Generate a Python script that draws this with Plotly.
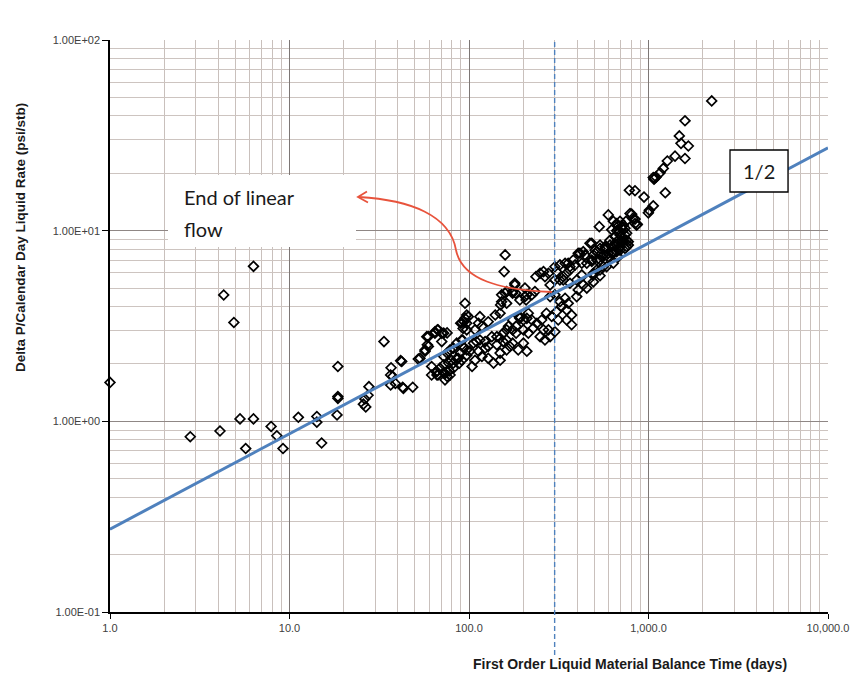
import math
import plotly.graph_objects as go

# ---------------- data ----------------
points = [
    (1.0, 1.6), (2.8, 0.83), (4.1, 0.89), (4.3, 4.6), (4.9, 3.3), (5.3, 1.03), (5.7, 0.72),
    (6.3, 1.03), (6.3, 6.5), (7.9, 0.94), (8.5, 0.84), (9.2, 0.72), (11.2, 1.05), (14.2, 1.06),
    (14.2, 0.99), (15.1, 0.77), (18.6, 1.94), (18.6, 1.35), (18.6, 1.32), (18.4, 1.08),
    (25.8, 1.23), (26.3, 1.31), (26.6, 1.19), (27.4, 1.37), (27.7, 1.52), (33.6, 2.62),
    (36.6, 1.75), (36.6, 1.55), (36.8, 1.91), (37.6, 1.72), (38.9, 1.58), (41.6, 2.08),
    (42.2, 2.06), (43.1, 1.49), (42.7, 1.51), (48.6, 1.51), (52.2, 2.12), (53.3, 2.14),
    (56.9, 2.37), (56.9, 2.33), (58.2, 2.78), (58.6, 2.52), (59.4, 2.47), (59.3, 2.78),
    (61.9, 1.94), (61.9, 1.75), (64.6, 2.95), (64.6, 2.90), (65.5, 1.82), (66.3, 1.75),
    (66.3, 1.82), (66.7, 3.02), (67.2, 3.02), (67.2, 1.75), (68.9, 1.90), (70.5, 2.90),
    (70.5, 2.62), (72.3, 2.90), (72.3, 2.19), (72.3, 1.98), (72.3, 1.80), (73.5, 1.78),
    (73.5, 1.65), (75.5, 2.91), (75.5, 2.28), (75.5, 1.82), (75.5, 1.72), (77.0, 2.02),
    (77.7, 1.84), (78.5, 2.37), (78.5, 1.75), (80.0, 2.09), (81.8, 2.42), (81.8, 2.02),
    (81.8, 1.90), (85.4, 2.57), (85.4, 2.14), (87.1, 2.14), (88.3, 2.02), (89.5, 2.28),
    (89.9, 3.27), (91.1, 2.67), (91.1, 2.09), (91.1, 3.29), (92.1, 2.67), (92.7, 2.47),
    (92.7, 3.07), (93.8, 2.42), (93.8, 3.33), (95, 3.47), (95, 4.16), (97.1, 3.61),
    (97.1, 3.02), (97.1, 3.27), (97.1, 2.37), (97.1, 2.22), (99.1, 3.54), (101, 2.33),
    (104, 1.94), (106, 2.57), (108, 3.02), (108, 2.09), (110, 2.62), (113, 3.27), (113, 2.33),
    (115, 3.54), (115, 2.67), (118, 3.15), (118, 2.19), (123, 2.42), (123, 2.62), (128, 3.33),
    (128, 2.47), (128, 2.14), (134, 2.78), (137, 2.02), (140, 3.61), (143, 2.78), (143, 2.52),
    (149, 3.69), (149, 2.73), (149, 2.28), (149, 2.09), (150, 4.08), (152, 4.24), (152, 4.61),
    (155, 2.62), (155, 2.90), (157, 6.10), (159, 7.46), (159, 4.70), (162, 4.16), (162, 4.79),
    (162, 3.02), (162, 2.37), (162, 2.67), (166, 3.15), (169, 2.47), (175, 4.70), (175, 4.79),
    (175, 3.40), (175, 3.02), (175, 2.57), (180, 5.19), (180, 5.30), (182, 4.70), (183, 3.15),
    (183, 2.90), (188, 2.37), (192, 4.33), (192, 3.47), (192, 3.54), (201, 3.40), (201, 3.02),
    (201, 2.57), (205, 5.0), (205, 4.51), (208, 4.33), (210, 4.61), (210, 3.47), (210, 2.33),
    (214, 3.69), (214, 2.90), (224, 4.61), (224, 3.40), (228, 3.08), (233, 4.79), (236, 5.74),
    (239, 3.27), (249, 5.98), (249, 2.78), (254, 3.40), (260, 6.10), (260, 3.02), (265, 5.74),
    (265, 2.67), (270, 3.69), (277, 5.98), (277, 3.02), (283, 5.19), (283, 4.51), (283, 2.78),
    (289, 3.55), (301, 6.47), (301, 5.51), (301, 4.61), (301, 2.95), (307, 6.10), (307, 3.76),
    (314, 3.40), (321, 6.61), (321, 5.51), (321, 4.24), (328, 4.0), (335, 5.74), (335, 5.51),
    (343, 6.75), (343, 4.42), (350, 5.98), (350, 3.84), (350, 3.40), (357, 6.75), (357, 4.16),
    (365, 6.47), (365, 6.22), (365, 5.30), (373, 3.61), (373, 3.21), (381, 7.02), (390, 6.61),
    (398, 5.51), (398, 4.51), (406, 7.61), (406, 4.89), (415, 7.61),
    (425, 6.75), (425, 5.86), (433, 7.76), (433, 5.19), (443, 7.46), (453, 6.75),
    (453, 5.0), (462, 5.51), (472, 8.59), (483, 8.59), (483, 6.9),
    (483, 7.02), (493, 7.46), (493, 5.98), (493, 5.39), (493, 5.86), (504, 7.9),
    (515, 7.76), (515, 7.02), (515, 6.22), (532, 10.5), (537, 8.4), (537, 8.07),
    (537, 7.02), (537, 6.22), (537, 5.80), (549, 7.3), (560, 7.46), (560, 6.47),
    (572, 8.24), (572, 8.07), (584, 7.46), (584, 6.47), (597, 12.1),
    (597, 7.61), (597, 7.3), (610, 8.9), (610, 8.4), (624, 10.1), (624, 7.61),
    (637, 11.2), (637, 7.76), (637, 7.61), (637, 6.75), (651, 9.3), (651, 8.6),
    (651, 8.24), (665, 10.9), (665, 10.7), (665, 10.0), (665, 7.76), (679, 10.1),
    (679, 8.59), (679, 8.9), (679, 7.3), (694, 11.2), (694, 9.5), (694, 8.24),
    (694, 7.9), (709, 10.5), (709, 8.76), (724, 10.7), (724, 10.1), (724, 9.12), (724, 8.76),
    (740, 10.3), (740, 9.5), (740, 8.07), (749, 11.2), (756, 9.69), (756, 8.9), (756, 8.24),
    (772, 8.76), (772, 8.4), (782, 16.3), (789, 12.3), (806, 12.2), (818, 11.6), (841, 16.2),
    (841, 11.5), (841, 10.9), (858, 10.7), (866, 10.8), (944, 15.0), (998, 12.4), (1010, 12.8),
    (1063, 13.5), (1063, 19.0), (1073, 18.6), (1080, 18.8), (1101, 19.1), (1159, 20.1),
    (1209, 21.2), (1240, 15.8), (1273, 23.2), (1405, 24.6), (1485, 31.4), (1517, 28.7),
    (1597, 23.9), (1597, 37.7), (1667, 27.8), (2250, 47.9),
]
time_days = [p[0] for p in points]
dp_rate = [p[1] for p in points]

slope_line_x = [1, 10000]
slope_line_y = [0.272, 27.2]
end_linear_flow_day = 300

x_tickvals = [1, 10, 100, 1000, 10000]
x_ticktext = ["1.0", "10.0", "100.0", "1,000.0", "10,000.0"]
y_tickvals = [0.1, 1, 10, 100]
y_ticktext = ["1.00E-01", "1.00E+00", "1.00E+01", "1.00E+02"]
x_minor = [m * 10 ** e for e in range(0, 4) for m in range(2, 10)]
y_minor = [m * 10.0 ** e for e in range(-1, 2) for m in range(2, 10)]

# ---------------- layout geometry ----------------
W, H = 862, 682
L, R, T, B = 110, 34, 40, 70
PW, PH = W - L - R, H - T - B
X_RANGE = [0, 4]
Y_RANGE = [-1, 2]


def px(x):  # pixel x -> paper x
    return (x - L) / PW


def py(y):  # pixel y -> paper y
    return (H - B - y) / PH


fig = go.Figure()

fig.add_trace(go.Scatter(
    x=time_days, y=dp_rate, mode="markers",
    marker=dict(symbol="diamond-open", size=7.5, color="black", line=dict(width=1.7, color="black")),
    cliponaxis=False, showlegend=False,
))
fig.add_trace(go.Scatter(
    x=slope_line_x, y=slope_line_y, mode="lines",
    line=dict(color="#4f81bd", width=3), showlegend=False,
))

tickfont = dict(family="Arial, Liberation Sans, sans-serif", size=11, color="#404040")
fig.update_xaxes(
    type="log", range=X_RANGE, tickvals=x_tickvals, ticktext=x_ticktext,
    ticks="outside", ticklen=5, tickcolor="black", tickfont=tickfont,
    showline=True, linecolor="black", linewidth=1.5,
    showgrid=True, gridcolor="#7d7775", gridwidth=1, zeroline=False,
    minor=dict(tickvals=x_minor, showgrid=True, gridcolor="#c9c0bc", gridwidth=1, ticks=""),
)
fig.update_yaxes(
    type="log", range=Y_RANGE, tickvals=y_tickvals, ticktext=y_ticktext,
    ticks="outside", ticklen=6, tickcolor="black", tickfont=tickfont,
    showline=True, linecolor="black", linewidth=1.5,
    showgrid=True, gridcolor="#8f8785", gridwidth=1, zeroline=False,
    minor=dict(tickvals=y_minor, showgrid=True, gridcolor="#cdc4c0", gridwidth=1, ticks=""),
)

shapes = []
# dashed vertical marker at end of linear flow (extends below axis)
xv = (math.log10(end_linear_flow_day) - X_RANGE[0]) / (X_RANGE[1] - X_RANGE[0])
shapes.append(dict(type="line", xref="paper", yref="paper", x0=xv, x1=xv, y0=py(655), y1=1,
                   line=dict(color="#4f81bd", width=1.4, dash="5px,3px"), layer="above"))
# white text box for "End of linear flow"
shapes.append(dict(type="rect", xref="paper", yref="paper", x0=px(168), x1=px(356),
                   y0=py(247), y1=py(175), fillcolor="white", line=dict(width=0), layer="above"))
# "1/2" boxed label
shapes.append(dict(type="rect", xref="paper", yref="paper", x0=px(730), x1=px(788),
                   y0=py(192), y1=py(150), fillcolor="white",
                   line=dict(color="black", width=1.3), layer="above"))
# red curved arrow
curve = (f"M {px(552):.4f},{py(292):.4f} "
         f"C {px(500):.4f},{py(290):.4f} {px(462):.4f},{py(280):.4f} {px(456):.4f},{py(250):.4f} "
         f"C {px(450):.4f},{py(215):.4f} {px(410):.4f},{py(200):.4f} {px(359):.4f},{py(197):.4f}")
shapes.append(dict(type="path", xref="paper", yref="paper", path=curve,
                   line=dict(color="#e8533c", width=1.8), layer="above"))
head = (f"M {px(367):.4f},{py(191.5):.4f} L {px(358):.4f},{py(197):.4f} "
        f"L {px(368):.4f},{py(202.5):.4f}")
shapes.append(dict(type="path", xref="paper", yref="paper", path=head,
                   line=dict(color="#e8533c", width=1.8), layer="above"))

title_font = dict(family="Arial, Liberation Sans, sans-serif", size=14, color="#1a1a1a")
annotations = [
    dict(text="<b>First Order Liquid Material Balance Time (days)</b>", xref="paper", yref="paper",
         x=px(630), y=py(664), showarrow=False, xanchor="center", yanchor="middle",
         font=title_font),
    dict(text="<b>Delta P/Calendar Day Liquid Rate (psi/stb)</b>", xref="paper", yref="paper",
         x=px(20), y=py(238), showarrow=False, textangle=-90, xanchor="center", yanchor="middle",
         font=dict(title_font, size=13.5)),
    dict(text="End of linear", xref="paper", yref="paper", x=px(182), y=py(197),
         showarrow=False, xanchor="left", yanchor="middle",
         font=dict(family="Lato, sans-serif", size=20, color="#1a1a1a")),
    dict(text="flow", xref="paper", yref="paper", x=px(182), y=py(229),
         showarrow=False, xanchor="left", yanchor="middle",
         font=dict(family="Lato, sans-serif", size=20, color="#1a1a1a")),
    dict(text="1/2", xref="paper", yref="paper", x=px(759), y=py(171),
         showarrow=False, xanchor="center", yanchor="middle",
         font=dict(family="Lato, sans-serif", size=20, color="#1a1a1a")),
]

fig.update_layout(
    width=W, height=H, margin=dict(l=L, r=R, t=T, b=B),
    paper_bgcolor="white", plot_bgcolor="white",
    shapes=shapes, annotations=annotations, showlegend=False,
)

fig.write_html("out.html")
